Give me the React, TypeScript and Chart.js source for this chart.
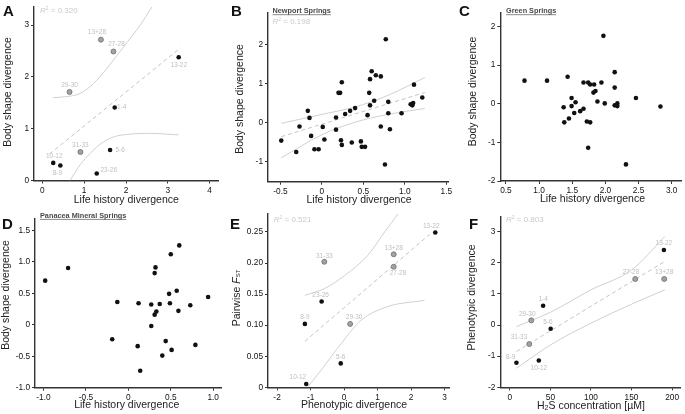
import React, { useEffect, useRef } from "react";
import { Chart, registerables } from "chart.js";
Chart.register(...registerables);

const FONT = '"Liberation Sans", Arial, Helvetica, sans-serif';
Chart.defaults.font.family = FONT;
const W = 685;
const H = 414;

// ---------------- Panel A ----------------
const aNames = ["13+28", "27-28", "29-30", "13-22", "1-4", "31-33", "5-6", "10-12", "8-9", "23-26"];
const aX = [1.40, 1.70, 0.65, 3.26, 1.73, 0.91, 1.62, 0.26, 0.43, 1.30];
const aY = [2.72, 2.49, 1.71, 2.38, 1.41, 0.55, 0.59, 0.34, 0.29, 0.135];
const aGray = [true, true, true, false, false, true, false, false, false, false];
const aFitX = [0.17, 3.30];
const aFitY = [0.51, 2.56];
const aUpX = [0.26, 0.58, 0.90, 1.22, 1.54, 1.94, 2.34, 2.62];
const aUpY = [1.60, 1.62, 1.68, 1.87, 2.16, 2.58, 3.00, 3.35];
const aLoX = [0.66, 0.90, 1.14, 1.38, 1.70, 2.02, 2.58, 3.26];
const aLoY = [0.0, 0.30, 0.52, 0.70, 0.84, 0.89, 0.91, 0.88];
const aXTicks = [0, 1, 2, 3, 4];
const aXTickLabels = ["0", "1", "2", "3", "4"];
const aYTicks = [0, 1, 2, 3];
const aYTickLabels = ["0", "1", "2", "3"];

// ---------------- Panel B ----------------
const bX = [-0.49, -0.31, -0.27, -0.17, -0.15, -0.13, -0.09, -0.04, 0.01, 0.03, 0.17, 0.17, 0.20, 0.22, 0.24, 0.23, 0.24, 0.28, 0.34, 0.40, 0.36, 0.47, 0.48, 0.52, 0.55, 0.57, 0.58, 0.58, 0.60, 0.63, 0.65, 0.71, 0.71, 0.76, 0.77, 0.80, 0.80, 0.82, 0.96, 1.07, 1.09, 1.10, 1.11, 1.21];
const bY = [-0.46, -0.75, -0.10, 0.30, 0.12, -0.34, -0.68, -0.68, -0.11, -0.43, 0.13, -0.18, 0.76, 0.76, 1.03, -0.45, -0.57, 0.22, 0.30, 0.37, -0.51, -0.48, -0.62, -0.62, 0.19, 0.76, 0.44, 1.11, 1.31, 0.56, 1.21, 1.18, -0.10, -1.07, 2.13, 0.53, 0.24, -0.17, 0.24, 0.47, 0.44, 0.50, 0.97, 0.64];
const bFitX = [-0.49, 1.24];
const bFitY = [-0.36, 0.77];
const bBandX = [-0.49, 0.0, 0.4, 0.8, 1.24];
const bUpY = [-0.02, 0.21, 0.40, 0.70, 1.15];
const bLoY = [-0.90, -0.31, 0.01, 0.21, 0.36];
const bXTicks = [-0.5, 0, 0.5, 1.0, 1.5];
const bXTickLabels = ["-0.5", "0", "0.5", "1.0", "1.5"];
const bYTicks = [-1, 0, 1, 2];
const bYTickLabels = ["-1", "0", "1", "2"];

// ---------------- Panel C ----------------
const cX = [0.78, 1.12, 1.43, 1.37, 1.38, 1.45, 1.49, 1.49, 1.53, 1.55, 1.62, 1.67, 1.67, 1.72, 1.74, 1.77, 1.74, 1.77, 1.83, 1.82, 1.85, 1.88, 1.94, 1.97, 1.99, 2.14, 2.14, 2.14, 2.18, 2.18, 2.31, 2.46, 2.83];
const cY = [0.60, 0.60, 0.70, -0.09, -0.48, -0.38, 0.15, -0.06, -0.24, 0.04, -0.19, -0.13, 0.55, -0.46, -1.14, -0.48, 0.55, 0.50, 0.50, 0.29, 0.33, 0.06, 0.55, 1.76, 0.01, 0.82, 0.42, -0.04, 0.01, -0.06, -1.57, 0.15, -0.07];
const cXTicks = [0.5, 1.0, 1.5, 2.0, 2.5, 3.0];
const cXTickLabels = ["0.5", "1.0", "1.5", "2.0", "2.5", "3.0"];
const cYTicks = [-2, -1, 0, 1, 2];
const cYTickLabels = ["-2", "-1", "0", "1", "2"];

// ---------------- Panel D ----------------
const dX = [-0.98, -0.71, -0.19, -0.13, 0.12, 0.11, 0.14, 0.27, 0.27, 0.31, 0.32, 0.31, 0.33, 0.37, 0.40, 0.44, 0.48, 0.49, 0.50, 0.51, 0.57, 0.59, 0.60, 0.73, 0.79, 0.94];
const dY = [0.70, 0.90, -0.23, 0.36, 0.34, -0.34, -0.73, 0.32, -0.02, 0.82, 0.91, 0.16, 0.21, 0.33, -0.49, -0.26, 0.49, 0.34, 1.12, -0.40, 0.54, 0.22, 1.26, 0.31, -0.32, 0.44];
const dXTicks = [-1.0, -0.5, 0, 0.5, 1.0];
const dXTickLabels = ["-1.0", "-0.5", "0", "0.5", "1.0"];
const dYTicks = [-1.0, -0.5, 0, 0.5, 1.0, 1.5];
const dYTickLabels = ["-1.0", "-0.5", "0", "0.5", "1.0", "1.5"];

// ---------------- Panel E ----------------
const eNames = ["13-22", "13+28", "27-28", "31-33", "23-26", "8-9", "29-30", "5-6", "10-12"];
const eX = [2.72, 1.48, 1.48, -0.59, -0.67, -1.17, 0.18, -0.10, -1.13];
const eY = [0.249, 0.214, 0.194, 0.202, 0.138, 0.102, 0.102, 0.0385, 0.0054];
const eGray = [false, true, true, true, false, false, true, false, false];
const eFitX = [-1.17, 2.55];
const eFitY = [0.074, 0.246];
const eUpX = [-1.17, -0.58, 0.02, 0.71, 1.21, 1.61];
const eUpY = [0.148, 0.159, 0.180, 0.2125, 0.25, 0.279];
const eLoX = [-1.08, -0.68, -0.08, 0.51, 1.31, 2.40];
const eLoY = [0.001, 0.028, 0.071, 0.108, 0.130, 0.140];
const eXTicks = [-2, -1, 0, 1, 2, 3];
const eXTickLabels = ["-2", "-1", "0", "1", "2", "3"];
const eYTicks = [0, 0.05, 0.1, 0.15, 0.2, 0.25];
const eYTickLabels = ["0", "0.05", "0.10", "0.15", "0.20", "0.25"];

// ---------------- Panel F ----------------
const fNames = ["13-22", "27-28", "13+28", "1-4", "29-30", "5-6", "31-33", "8-9", "10-12"];
const fX = [189.9, 154.6, 190.3, 41, 26.4, 50.3, 23.9, 8.1, 35.7];
const fY = [2.41, 1.48, 1.48, 0.62, 0.15, -0.12, -0.61, -1.21, -1.14];
const fGray = [false, true, true, false, true, false, true, false, false];
const fFitX = [8.1, 192];
const fFitY = [-0.85, 2.06];
const fBandX = [8, 50, 100, 150, 191];
const fUpY = [-0.05, 0.41, 1.13, 1.77, 2.84];
const fLoY = [-1.39, -0.64, 0.06, 0.67, 1.13];
const fXTicks = [0, 50, 100, 150, 200];
const fXTickLabels = ["0", "50", "100", "150", "200"];
const fYTicks = [-2, -1, 0, 1, 2, 3];
const fYTickLabels = ["-2", "-1", "0", "1", "2", "3"];

// ---------------- layout (positions / styles) ----------------
type Panel = {
  letter: string;
  letterPos: [number, number];
  site?: string;
  sitePos?: [number, number];
  r2?: string;
  r2Pos?: [number, number];
  area: [number, number, number, number];
  xRange: [number, number];
  yRange: [number, number];
  xTicks: number[];
  xTickLabels: string[];
  yTicks: number[];
  yTickLabels: string[];
  xs: number[];
  ys: number[];
  gray?: boolean[];
  names?: string[];
  nameOffsets?: [number, number][];
  fit?: [number[], number[]];
  upper?: [number[], number[]];
  lower?: [number[], number[]];
  xTitle: string;
  xTitlePos: [number, number];
  yTitle: string;
  yTitlePos: [number, number];
};

const panels: Panel[] = [
  {
    letter: "A", letterPos: [3, 15.5], r2: "0.320", r2Pos: [40, 12.8],
    area: [34, 7, 218, 180.5], xRange: [-0.2, 4.2], yRange: [0, 3.35],
    xTicks: aXTicks, xTickLabels: aXTickLabels, yTicks: aYTicks, yTickLabels: aYTickLabels,
    xs: aX, ys: aY, gray: aGray, names: aNames,
    nameOffsets: [[-4, -7], [3, -7.3], [0, -6.7], [0, 7.7], [7, 0], [0, -6.5], [10, 0], [1, -7], [-3, 7.7], [12, -3.3]],
    fit: [aFitX, aFitY], upper: [aUpX, aUpY], lower: [aLoX, aLoY],
    xTitle: "Life history divergence", xTitlePos: [126.3, 200.5],
    yTitle: "Body shape divergence", yTitlePos: [8, 92],
  },
  {
    letter: "B", letterPos: [231, 15.5], site: "Newport Springs", sitePos: [272.5, 13.3], r2: "0.198", r2Pos: [272.5, 23.5],
    area: [268, 13, 448, 181.7], xRange: [-0.65, 1.52], yRange: [-1.51, 2.8],
    xTicks: bXTicks, xTickLabels: bXTickLabels, yTicks: bYTicks, yTickLabels: bYTickLabels,
    xs: bX, ys: bY,
    fit: [bFitX, bFitY], upper: [bBandX, bUpY], lower: [bBandX, bLoY],
    xTitle: "Life history divergence", xTitlePos: [359, 200],
    yTitle: "Body shape divergence", yTitlePos: [240.5, 99],
  },
  {
    letter: "C", letterPos: [459, 15.5], site: "Green Springs", sitePos: [506, 13.3],
    area: [500.3, 12.7, 683.7, 181], xRange: [0.415, 3.14], yRange: [-2, 2.36],
    xTicks: cXTicks, xTickLabels: cXTickLabels, yTicks: cYTicks, yTickLabels: cYTickLabels,
    xs: cX, ys: cY,
    xTitle: "Life history divergence", xTitlePos: [592.5, 199.5],
    yTitle: "Body shape divergence", yTitlePos: [472.7, 91.5],
  },
  {
    letter: "D", letterPos: [2, 228.5], site: "Panacea Mineral Springs", sitePos: [40, 218],
    area: [35, 218.3, 221.7, 387.7], xRange: [-1.1, 1.1], yRange: [-1, 1.69],
    xTicks: dXTicks, xTickLabels: dXTickLabels, yTicks: dYTicks, yTickLabels: dYTickLabels,
    xs: dX, ys: dY,
    xTitle: "Life history divergence", xTitlePos: [126.7, 405.5],
    yTitle: "Body shape divergence", yTitlePos: [6, 295],
  },
  {
    letter: "E", letterPos: [230, 228.5], r2: "0.521", r2Pos: [273.7, 221.8],
    area: [268, 213.3, 449.7, 387.3], xRange: [-2.27, 3.15], yRange: [0, 0.28],
    xTicks: eXTicks, xTickLabels: eXTickLabels, yTicks: eYTicks, yTickLabels: eYTickLabels,
    xs: eX, ys: eY, gray: eGray, names: eNames,
    nameOffsets: [[-4, -6.7], [0, -6], [4.3, 6.7], [0, -6], [-1, -6], [0, -6.3], [4, -6.3], [0, -5.7], [-8.3, -6.3]],
    fit: [eFitX, eFitY], upper: [eUpX, eUpY], lower: [eLoX, eLoY],
    xTitle: "Phenotypic divergence", xTitlePos: [354, 405.5],
    yTitle: "Pairwise FST", yTitlePos: [236.7, 298],
  },
  {
    letter: "F", letterPos: [469, 228.5], r2: "0.803", r2Pos: [506, 221.8],
    area: [500.3, 216.7, 682.7, 387.3], xRange: [-11.8, 210], yRange: [-2, 3.48],
    xTicks: fXTicks, xTickLabels: fXTickLabels, yTicks: fYTicks, yTickLabels: fYTickLabels,
    xs: fX, ys: fY, gray: fGray, names: fNames,
    nameOffsets: [[0, -6.7], [-4.3, -6.3], [0, -6.3], [0, -6.3], [-4, -6.3], [-2.7, -6.3], [-10.3, -6.7], [-5.7, -6], [0, 7.7]],
    fit: [fFitX, fFitY], upper: [fBandX, fUpY], lower: [fBandX, fLoY],
    xTitle: "H2S concentration [µM]", xTitlePos: [591, 406],
    yTitle: "Phenotypic divergence", yTitlePos: [472.5, 297.5],
  },
];

const TITLE_FONT = `10.5px ${FONT}`;
const TEXT_DARK = "#222";

type Part = { t: string; font: string; dy?: number };

function drawParts(ctx: CanvasRenderingContext2D, parts: Part[], x: number, y: number, rot: number, center: boolean, baseline: CanvasTextBaseline) {
  ctx.save();
  ctx.translate(x, y);
  if (rot) ctx.rotate(rot);
  const widths = parts.map((p) => {
    ctx.font = p.font;
    return ctx.measureText(p.t).width;
  });
  const total = widths.reduce((s, w) => s + w, 0);
  let cx = center ? -total / 2 : 0;
  ctx.textAlign = "left";
  ctx.textBaseline = baseline;
  parts.forEach((p, i) => {
    ctx.font = p.font;
    ctx.fillText(p.t, cx, p.dy || 0);
    cx += widths[i];
  });
  ctx.restore();
}

function decorPlugin(p: Panel) {
  return {
    id: "decor" + p.letter,
    afterDraw(chart: any) {
      const ctx: CanvasRenderingContext2D = chart.ctx;
      ctx.save();
      ctx.fillStyle = "#111";
      ctx.font = `bold 15px ${FONT}`;
      ctx.textAlign = "left";
      ctx.textBaseline = "alphabetic";
      ctx.fillText(p.letter, p.letterPos[0], p.letterPos[1]);
      if (p.site && p.sitePos) {
        ctx.font = `bold 7.3px ${FONT}`;
        ctx.fillStyle = "#4a4a4a";
        ctx.fillText(p.site, p.sitePos[0], p.sitePos[1]);
        const w = ctx.measureText(p.site).width;
        ctx.strokeStyle = "#6a6a6a";
        ctx.lineWidth = 0.8;
        ctx.beginPath();
        ctx.moveTo(p.sitePos[0], p.sitePos[1] + 1.4);
        ctx.lineTo(p.sitePos[0] + w, p.sitePos[1] + 1.4);
        ctx.stroke();
      }
      if (p.r2 && p.r2Pos) {
        ctx.fillStyle = "#cacaca";
        drawParts(ctx, [
          { t: "R", font: `italic 8px ${FONT}` },
          { t: "2", font: `5px ${FONT}`, dy: -3 },
          { t: " = " + p.r2, font: `8px ${FONT}` },
        ], p.r2Pos[0], p.r2Pos[1], 0, false, "alphabetic");
      }
      if (p.names && p.nameOffsets) {
        const meta = chart.getDatasetMeta(0);
        ctx.fillStyle = "#c0c0c0";
        ctx.font = `6.5px ${FONT}`;
        ctx.textAlign = "center";
        ctx.textBaseline = "middle";
        p.names.forEach((n, i) => {
          const el = meta.data[i];
          const off = p.nameOffsets![i];
          ctx.fillText(n, el.x + off[0], el.y + off[1]);
        });
      }
      ctx.fillStyle = TEXT_DARK;
      if (p.xTitle.startsWith("H2S")) {
        drawParts(ctx, [
          { t: "H", font: TITLE_FONT },
          { t: "2", font: `7px ${FONT}`, dy: 2 },
          { t: "S concentration [µM]", font: TITLE_FONT },
        ], p.xTitlePos[0], p.xTitlePos[1], 0, true, "middle");
      } else {
        drawParts(ctx, [{ t: p.xTitle, font: TITLE_FONT }], p.xTitlePos[0], p.xTitlePos[1], 0, true, "middle");
      }
      if (p.yTitle === "Pairwise FST") {
        drawParts(ctx, [
          { t: "Pairwise ", font: TITLE_FONT },
          { t: "F", font: `italic 10.5px ${FONT}` },
          { t: "ST", font: `6px ${FONT}`, dy: 2 },
        ], p.yTitlePos[0], p.yTitlePos[1], -Math.PI / 2, true, "middle");
      } else {
        drawParts(ctx, [{ t: p.yTitle, font: TITLE_FONT }], p.yTitlePos[0], p.yTitlePos[1], -Math.PI / 2, true, "middle");
      }
      ctx.restore();
    },
  };
}

const Y_BOX = 30;
const X_BOX = 22;

function axis(range: [number, number], ticks: number[], labels: string[], horizontal: boolean) {
  return {
    type: "linear" as const,
    min: range[0],
    max: range[1],
    afterFit: (s: any) => {
      if (horizontal) s.height = X_BOX;
      else s.width = Y_BOX;
    },
    afterBuildTicks: (s: any) => {
      s.ticks = ticks.map((v) => ({ value: v }));
    },
    ticks: {
      callback: (_v: any, i: number) => labels[i],
      font: { family: FONT, size: 8.3 },
      color: "#111",
      padding: 2,
      autoSkip: false,
      maxRotation: 0,
      minRotation: 0,
    },
    grid: { display: true, drawOnChartArea: false, drawTicks: true, tickLength: 3, color: "#333", lineWidth: 1 },
    border: { display: true, color: "#333", width: 1.4 },
  };
}

function buildConfig(p: Panel): any {
  const [L, T, R, B] = p.area;
  const gray = p.gray || p.xs.map(() => false);
  const datasets: any[] = [
    {
      data: p.xs.map((x, i) => ({ x, y: p.ys[i] })),
      pointRadius: p.xs.map((_, i) => (gray[i] ? 2.5 : 2.3)),
      pointBackgroundColor: p.xs.map((_, i) => (gray[i] ? "#a2a2a2" : "#111")),
      pointBorderColor: p.xs.map((_, i) => (gray[i] ? "#6c6c6c" : "#111")),
      pointBorderWidth: p.xs.map((_, i) => (gray[i] ? 0.8 : 0)),
      showLine: false,
    },
  ];
  if (p.fit) {
    datasets.push({
      data: p.fit[0].map((x, i) => ({ x, y: p.fit![1][i] })),
      showLine: true, pointRadius: 0, borderColor: "#c4c4c4", borderWidth: 1, borderDash: [4, 3],
    });
  }
  [p.upper, p.lower].forEach((band) => {
    if (!band) return;
    datasets.push({
      data: band[0].map((x, i) => ({ x, y: band[1][i] })),
      showLine: true, pointRadius: 0, borderColor: "#d0d0d0", borderWidth: 1,
      tension: 0.4, cubicInterpolationMode: "monotone",
    });
  });
  return {
    type: "scatter",
    data: { datasets },
    options: {
      animation: false,
      responsive: false,
      events: [],
      layout: { padding: { left: L - Y_BOX, top: T, right: W - R, bottom: H - B - X_BOX } },
      plugins: { legend: { display: false }, tooltip: { enabled: false } },
      scales: {
        x: axis(p.xRange, p.xTicks, p.xTickLabels, true),
        y: axis(p.yRange, p.yTicks, p.yTickLabels, false),
      },
    },
    plugins: [decorPlugin(p)],
  };
}

function PanelCanvas({ panel }: { panel: Panel }) {
  const ref = useRef<HTMLCanvasElement>(null);
  useEffect(() => {
    const chart = new Chart(ref.current as HTMLCanvasElement, buildConfig(panel));
    return () => chart.destroy();
  }, [panel]);
  return (
    <canvas
      ref={ref}
      width={W}
      height={H}
      style={{ position: "absolute", left: 0, top: 0, width: W, height: H }}
    />
  );
}

export default function App() {
  return (
    <div style={{ position: "fixed", left: 0, top: 0, width: W, height: H, background: "#fff", overflow: "hidden" }}>
      {panels.map((p) => (
        <PanelCanvas key={p.letter} panel={p} />
      ))}
    </div>
  );
}
